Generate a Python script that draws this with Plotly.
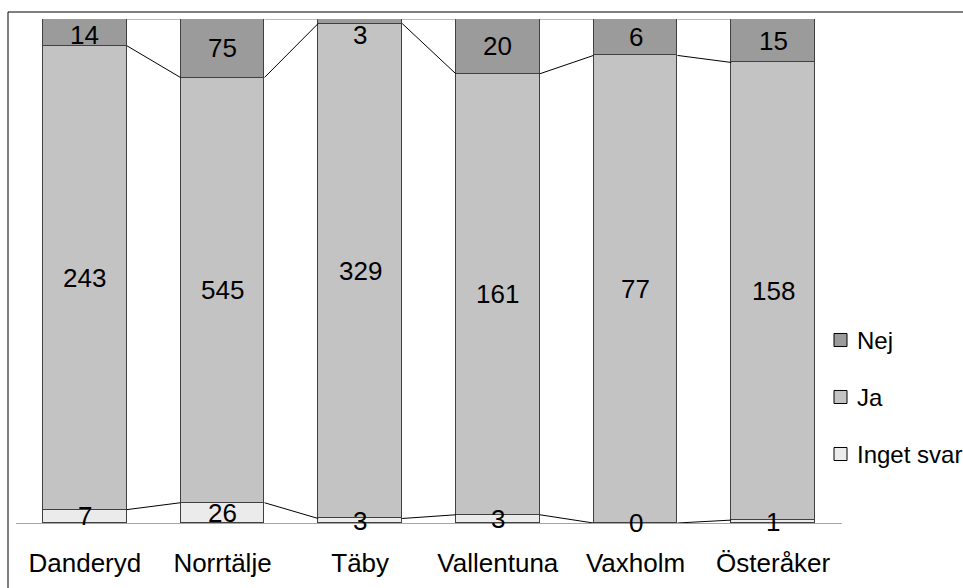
import numpy as np
import plotly.graph_objects as go

# Survey answers per municipality
categories = ["Danderyd", "Norrtälje", "Täby", "Vallentuna", "Vaxholm", "Österåker"]
inget_svar = [7, 26, 3, 3, 0, 1]
ja = [243, 545, 329, 161, 77, 158]
nej = [14, 75, 3, 20, 6, 15]

series = [
    ("Inget svar", inget_svar, "#ebebeb"),
    ("Ja", ja, "#c3c3c3"),
    ("Nej", nej, "#9b9b9b"),
]

FONT = "Arial, 'Liberation Sans', sans-serif"
BAR_W = 0.61
PLOT_W, PLOT_H = 826, 504

counts = np.array([s[1] for s in series], dtype=float)
totals = counts.sum(axis=0)
shares = counts / totals * 100.0
tops = np.cumsum(shares, axis=0)
bottoms = tops - shares

x = np.arange(len(categories))
fig = go.Figure()

for k, (name, vals, color) in enumerate(series):
    fig.add_trace(go.Bar(
        x=x, y=shares[k], name=name, width=BAR_W,
        marker=dict(color=color, line=dict(color="#404040", width=1)),
        hoverinfo="skip", showlegend=False,
    ))

# series lines joining the top of each stacked segment between neighbouring bars
for k in range(len(series)):
    lx, ly = [], []
    for i in range(len(categories) - 1):
        lx += [x[i] + BAR_W / 2, x[i + 1] - BAR_W / 2, None]
        ly += [tops[k][i], tops[k][i + 1], None]
    fig.add_trace(go.Scatter(
        x=lx, y=ly, mode="lines", showlegend=False, hoverinfo="skip",
        line=dict(color="#000000" if k < len(series) - 1 else "#7a7a7a", width=1),
    ))

# value labels centred in their segments, kept below the top edge
annotations = []
for k, (name, vals, color) in enumerate(series):
    for i in range(len(categories)):
        yc = (bottoms[k][i] + tops[k][i]) / 2
        yc = min(yc, 96.8)
        annotations.append(dict(
            x=x[i], y=yc, xref="x", yref="y", text=str(vals[i]),
            showarrow=False, xanchor="center", yanchor="middle",
            font=dict(family=FONT, size=26, color="#000000"),
        ))

# legend at the right: Nej on top, Inget svar at the bottom
shapes = [dict(
    type="rect", xref="paper", yref="paper",
    x0=-8 / PLOT_W, x1=1.3, y0=-0.3, y1=(PLOT_H + 7) / PLOT_H,
    line=dict(color="#000000", width=1), fillcolor="rgba(0,0,0,0)",
    layer="below",
)]
legend_y = {"Nej": 183, "Ja": 126, "Inget svar": 69}  # pixels above the baseline
for name, vals, color in series:
    yc = legend_y[name] / PLOT_H
    half = 6.5 / PLOT_H
    shapes.append(dict(
        type="rect", xref="paper", yref="paper",
        x0=(834 - 16) / PLOT_W, x1=(847 - 16) / PLOT_W,
        y0=yc - half, y1=yc + half,
        line=dict(color="#000000", width=1), fillcolor=color,
    ))
    annotations.append(dict(
        x=(855 - 16) / PLOT_W, y=yc, xref="paper", yref="paper",
        text=name, showarrow=False, xanchor="left", yanchor="middle",
        font=dict(family=FONT, size=24, color="#000000"),
    ))

fig.update_layout(
    width=963, height=588,
    margin=dict(l=16, r=121, t=19, b=65, autoexpand=False),
    barmode="stack", bargap=0,
    paper_bgcolor="#ffffff", plot_bgcolor="#ffffff",
    font=dict(family=FONT, size=24, color="#000000"),
    showlegend=False,
    xaxis=dict(
        range=[-0.5, len(categories) - 0.5],
        tickvals=list(x), ticktext=categories,
        showgrid=False, zeroline=False, ticks="",
        showline=True, linecolor="#a6a6a6", linewidth=1,
        ticklabelstandoff=17,
        tickfont=dict(family=FONT, size=26, color="#000000"),
    ),
    yaxis=dict(range=[0, 100], visible=False, showgrid=False, zeroline=False),
    annotations=annotations,
    shapes=shapes,
)

fig.write_html("out.html")
